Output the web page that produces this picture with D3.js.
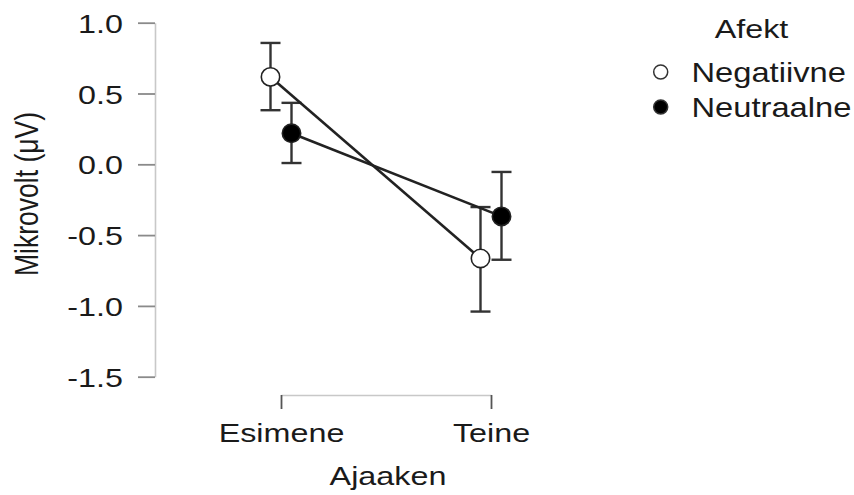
<!DOCTYPE html>
<html>
<head>
<meta charset="utf-8">
<script src="https://cdn.jsdelivr.net/npm/d3@7"></script>
<style>
  html, body { margin: 0; padding: 0; background: #fff; }
  svg { display: block; }
  text { font-family: "Liberation Sans", Arial, sans-serif; fill: #1a1a1a; }
</style>
</head>
<body>
<div id="chart"></div>
<script>
// ---- data ----
const categories = ["Esimene", "Teine"];
const seriesNames = ["Negatiivne", "Neutraalne"];
const negMean  = [0.617, -0.665];
const negLower = [0.382, -1.040];
const negUpper = [0.857, -0.302];
const neuMean  = [0.219, -0.368];
const neuLower = [0.009, -0.674];
const neuUpper = [0.434, -0.054];
const yTicks = [1.0, 0.5, 0.0, -0.5, -1.0, -1.5];
const xTitle = "Ajaaken";
const yTitle = "Mikrovolt (\u03bcV)";
const legendTitle = "Afekt";

const series = [
  { name: seriesNames[0], mean: negMean, lo: negLower, hi: negUpper, fill: "#ffffff" },
  { name: seriesNames[1], mean: neuMean, lo: neuLower, hi: neuUpper, fill: "#000000" }
];

// ---- layout ----
const W = 854, H = 495;
const SX = 1.22;       // horizontal stretch of the reference glyphs
const FS = 26.5;
const LFS = 26.8;
const dodge = [-10.5, 10.5];

const svg = d3.select("#chart").append("svg").attr("width", W).attr("height", H);

const y = d3.scaleLinear().domain([-1.5, 1.0]).range([376.7, 22.7]);
const x = d3.scalePoint().domain(categories).range([281, 491]);

// Y axis
const yAxisG = svg.append("g").attr("transform", "translate(155,0)")
  .call(d3.axisLeft(y).tickValues(yTicks).tickFormat(d => d.toFixed(1))
        .tickSize(17).tickSizeOuter(0).tickPadding(15));
yAxisG.select(".domain").attr("stroke", "#c8c8c8").attr("stroke-width", 1.6);
yAxisG.selectAll(".tick line").attr("stroke", "#8a8a8a").attr("stroke-width", 1.8);
yAxisG.selectAll(".tick text")
  .attr("font-size", FS).attr("font-family", "Liberation Sans, Arial, sans-serif")
  .attr("fill", "#1a1a1a")
  .attr("x", 0).attr("dy", "0.36em")
  .attr("transform", `translate(-32,0) scale(${SX},1)`);

// X axis
const xAxisG = svg.append("g").attr("transform", "translate(0,395)")
  .call(d3.axisBottom(x).tickSize(14).tickSizeOuter(0).tickPadding(14));
xAxisG.select(".domain").attr("stroke", "#c8c8c8").attr("stroke-width", 1.6);
xAxisG.selectAll(".tick line").attr("stroke", "#555").attr("stroke-width", 1.8);
xAxisG.selectAll(".tick text")
  .attr("font-size", FS).attr("font-family", "Liberation Sans, Arial, sans-serif")
  .attr("fill", "#1a1a1a")
  .attr("y", 0).attr("dy", "0")
  .attr("transform", `translate(0,46.7) scale(${SX},1)`);

// Axis titles
svg.append("text")
  .attr("transform", `translate(388,485) scale(${SX},1)`)
  .attr("text-anchor", "middle").attr("font-size", FS)
  .text(xTitle);
svg.append("text")
  .attr("transform", `translate(38,194) scale(${SX},1) rotate(-90)`)
  .attr("text-anchor", "middle").attr("font-size", FS)
  .text(yTitle);

// Plot marks
const plot = svg.append("g");
const capHalf = 10;

series.forEach((s, si) => {
  const px = i => x(categories[i]) + dodge[si];
  categories.forEach((c, i) => {
    const g = plot.append("g").attr("stroke", "#333").attr("stroke-width", 2.4);
    g.append("line").attr("x1", px(i)).attr("x2", px(i)).attr("y1", y(s.lo[i])).attr("y2", y(s.hi[i]));
    g.append("line").attr("x1", px(i) - capHalf).attr("x2", px(i) + capHalf).attr("y1", y(s.lo[i])).attr("y2", y(s.lo[i]));
    g.append("line").attr("x1", px(i) - capHalf).attr("x2", px(i) + capHalf).attr("y1", y(s.hi[i])).attr("y2", y(s.hi[i]));
  });
});

series.forEach((s, si) => {
  const line = d3.line().x((d, i) => x(categories[i]) + dodge[si]).y(d => y(d));
  plot.append("path").datum(s.mean).attr("d", line)
    .attr("fill", "none").attr("stroke", "#222").attr("stroke-width", 2.6);
});

series.forEach((s, si) => {
  plot.selectAll(null).data(s.mean).enter().append("circle")
    .attr("cx", (d, i) => x(categories[i]) + dodge[si])
    .attr("cy", d => y(d))
    .attr("r", 9.2)
    .attr("fill", s.fill)
    .attr("stroke", "#222").attr("stroke-width", 1.6);
});

// Legend
svg.append("text")
  .attr("transform", `translate(751.5,38) scale(${SX},1)`)
  .attr("text-anchor", "middle").attr("font-size", FS)
  .text(legendTitle);

const leg = svg.append("g");
series.forEach((s, si) => {
  const cy = 72 + si * 35;
  leg.append("circle").attr("cx", 660.7).attr("cy", cy).attr("r", 7)
    .attr("fill", s.fill).attr("stroke", "#333").attr("stroke-width", 1.5);
  leg.append("text")
    .attr("transform", `translate(691.5,${cy + 9.5}) scale(${SX},1)`)
    .attr("font-size", LFS)
    .text(s.name);
});
</script>
</body>
</html>
